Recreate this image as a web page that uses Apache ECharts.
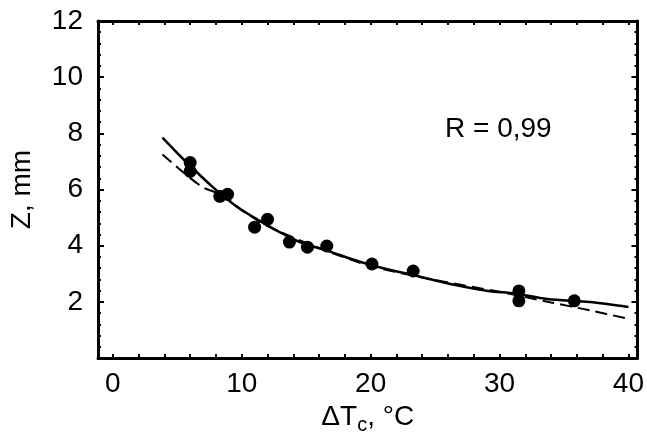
<!DOCTYPE html>
<html>
<head>
<meta charset="utf-8">
<script src="https://cdn.jsdelivr.net/npm/echarts@6/dist/echarts.min.js"></script>
<style>
    html, body { margin: 0; padding: 0; background: #fff; }
    #main { width: 647px; height: 440px; }
</style>
</head>
<body>
<div id="main"></div>
<script>
    // measured points
    var pointX = [6.0, 6.0, 8.3, 8.9, 11.0, 12.0, 13.7, 15.1, 16.6, 20.1, 23.3, 31.5, 31.5, 35.8];
    var pointY = [6.96, 6.65, 5.76, 5.83, 4.66, 4.94, 4.13, 3.95, 3.99, 3.35, 3.1, 2.39, 2.04, 2.04];

    // fitted curve (solid)
    var fitX = [3.85, 5.5, 7.8, 9.6, 11.2, 12.8, 14.5, 16.8, 18.5, 20.6, 23.9, 26.2, 29.1, 31.2, 33.7, 37, 40];
    var fitY = [7.85, 7.07, 6.07, 5.4, 4.94, 4.52, 4.13, 3.8, 3.53, 3.24, 2.89, 2.64, 2.39, 2.3, 2.1, 2.0, 1.82];

    // second curve (dashed)
    var dashX = [3.85, 5.5, 7, 8.5, 10, 12, 16, 20, 25, 30, 34, 37, 40];
    var dashY = [7.25, 6.6, 6.08, 5.8, 5.27, 4.7, 3.92, 3.28, 2.78, 2.36, 1.98, 1.7, 1.4];

    var xTicks = [0, 2, 4, 6, 8, 10, 12, 14, 16, 18, 20, 22, 24, 26, 28, 30, 32, 34, 36, 38, 40];
    var xLabels = [0, 10, 20, 30, 40];

    var font = 'Liberation Sans, Arial, sans-serif';

    function pairs(xs, ys) {
        return xs.map(function (x, i) { return [x, ys[i]]; });
    }

    var chart = echarts.init(document.getElementById('main'));

    var xBase = {
        type: 'value',
        min: -1.15,
        max: 40.7,
        splitLine: { show: false },
        axisLine: { onZero: false, lineStyle: { color: '#000', width: 3 } },
        axisTick: { inside: true, length: 4, customValues: xTicks, lineStyle: { color: '#000', width: 2 } }
    };
    var yBase = {
        type: 'value',
        min: 0,
        max: 12,
        interval: 2,
        splitLine: { show: false },
        axisLine: { onZero: false, lineStyle: { color: '#000', width: 3 } },
        axisTick: { inside: true, length: 6, lineStyle: { color: '#000', width: 2 } },
        minorTick: { show: true, splitNumber: 5, length: 3, lineStyle: { color: '#000', width: 2 } }
    };

    var option = {
        backgroundColor: '#fff',
        animation: false,
        grid: { left: 97, right: 6, top: 21, bottom: 81 },
        xAxis: [
            Object.assign({}, xBase, {
                position: 'bottom',
                name: '{a|ΔT}{s|c}{a|, °C}',
                nameLocation: 'middle',
                nameGap: 40,
                nameTextStyle: {
                    rich: {
                        a: { fontFamily: font, fontSize: 28, color: '#000' },
                        s: { fontFamily: font, fontSize: 20, color: '#000', padding: [16, 0, 0, 0] }
                    }
                },
                axisLabel: {
                    customValues: xLabels,
                    margin: 12,
                    fontFamily: font,
                    fontSize: 28,
                    color: '#000'
                }
            }),
            Object.assign({}, xBase, { position: 'top', axisLabel: { show: false } })
        ],
        yAxis: [
            Object.assign({}, yBase, {
                position: 'left',
                name: 'Z, mm',
                nameLocation: 'middle',
                nameGap: 62,
                nameTextStyle: { fontFamily: font, fontSize: 28, color: '#000' },
                axisLabel: {
                    margin: 15,
                    fontFamily: font,
                    fontSize: 28,
                    color: '#000',
                    formatter: function (v) { return v === 0 ? '' : String(v); }
                }
            }),
            Object.assign({}, yBase, { position: 'right', axisLabel: { show: false } })
        ],
        graphic: [{
            type: 'text',
            left: 445,
            top: 115,
            style: { text: 'R = 0,99', font: '28px ' + font, fill: '#000' }
        }],
        series: [
            {
                type: 'line',
                data: pairs(fitX, fitY),
                smooth: 0.3,
                showSymbol: false,
                lineStyle: { color: '#000', width: 2.5 },
                z: 3
            },
            {
                type: 'line',
                data: pairs(dashX, dashY),
                smooth: 0.3,
                showSymbol: false,
                lineStyle: { color: '#000', width: 2, type: [12, 6] },
                z: 2
            },
            {
                type: 'scatter',
                data: pairs(pointX, pointY),
                symbolSize: 13,
                itemStyle: { color: '#000', opacity: 1 },
                z: 4
            }
        ]
    };

    chart.setOption(option);
</script>
</body>
</html>
